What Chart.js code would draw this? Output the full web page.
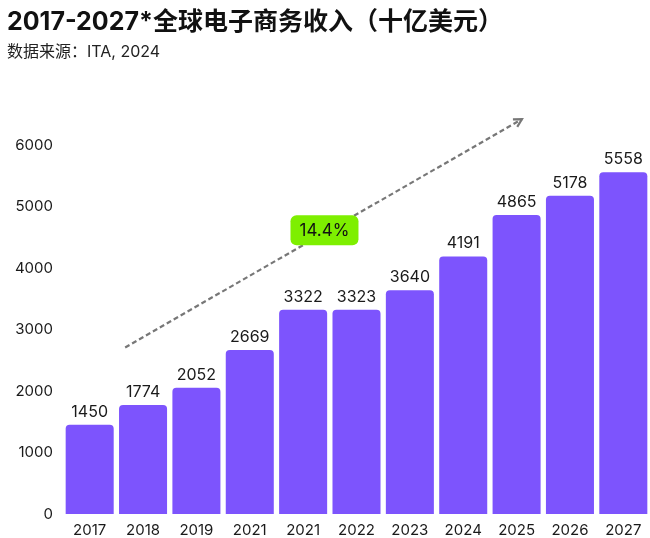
<!DOCTYPE html>
<html>
<head>
<meta charset="utf-8">
<script src="https://cdn.jsdelivr.net/npm/chart.js@4"></script>
<style>
html,body{margin:0;padding:0;background:#fff;}
#wrap{width:650px;height:538px;position:relative;}
</style>
</head>
<body>
<div id="wrap"><canvas id="c" width="650" height="538"></canvas></div>
<script>
const titleText = "2017-2027*全球电子商务收入（十亿美元）";
const subtitleText = "数据来源：ITA, 2024";
const categories = ["2017","2018","2019","2021","2021","2022","2023","2024","2025","2026","2027"];
const revenue = [1450,1774,2052,2669,3322,3323,3640,4191,4865,5178,5558];
const arrowFrom = [0.665, 2710];
const arrowTo = [8.10, 6423];
const growthLabel = "14.4%";
const growthPos = [4.40, 4618];

const FONT = "Inter, 'Noto Sans CJK SC', sans-serif";

const overlay = {
  id: 'overlay',
  afterDatasetsDraw(chart) {
    const ctx = chart.ctx;
    const xs = chart.scales.x, ys = chart.scales.y;
    const meta = chart.getDatasetMeta(0);
    ctx.save();
    ctx.font = "16px " + FONT;
    ctx.fillStyle = "#1a1a1a";
    ctx.textAlign = "center";
    ctx.textBaseline = "bottom";
    meta.data.forEach((bar, i) => {
      ctx.fillText(String(revenue[i]), bar.x, bar.y - 5);
    });
    const x1 = xs.getPixelForValue(arrowFrom[0]), y1 = ys.getPixelForValue(arrowFrom[1]);
    const x2 = xs.getPixelForValue(arrowTo[0]), y2 = ys.getPixelForValue(arrowTo[1]);
    ctx.strokeStyle = "#777";
    ctx.lineWidth = 2.2;
    ctx.setLineDash([5, 3]);
    ctx.beginPath();
    ctx.moveTo(x1, y1);
    ctx.lineTo(x2, y2);
    ctx.stroke();
    ctx.setLineDash([]);
    const ang = Math.atan2(y2 - y1, x2 - x1);
    const hl = 9;
    ctx.beginPath();
    ctx.moveTo(x2 - hl * Math.cos(ang - 0.5), y2 - hl * Math.sin(ang - 0.5));
    ctx.lineTo(x2, y2);
    ctx.lineTo(x2 - hl * Math.cos(ang + 0.5), y2 - hl * Math.sin(ang + 0.5));
    ctx.stroke();
    const cx = xs.getPixelForValue(growthPos[0]), cy = ys.getPixelForValue(growthPos[1]);
    const w = 68, h = 30, r = 6;
    ctx.fillStyle = "#7EEF00";
    ctx.beginPath();
    ctx.roundRect(cx - w / 2, cy - h / 2, w, h, r);
    ctx.fill();
    ctx.fillStyle = "#111";
    ctx.font = "17px " + FONT;
    ctx.textBaseline = "middle";
    ctx.fillText(growthLabel, cx, cy + 1);
    ctx.restore();
  }
};

new Chart(document.getElementById('c'), {
  type: 'bar',
  data: {
    labels: categories,
    datasets: [{
      data: revenue,
      backgroundColor: "#7D54FD",
      borderRadius: {topLeft: 4, topRight: 4, bottomLeft: 0, bottomRight: 0},
      borderSkipped: 'bottom',
      categoryPercentage: 1,
      barPercentage: 0.9
    }]
  },
  options: {
    responsive: false,
    animation: false,
    devicePixelRatio: 1,
    layout: {padding: {top: 0, right: 0, left: 7, bottom: 0}},
    plugins: {
      legend: {display: false},
      tooltip: {enabled: false},
      title: {
        display: true, text: titleText, align: 'start',
        color: "#111", font: {family: FONT, size: 25, weight: 'bold'},
        padding: {top: 7, bottom: 6}
      },
      subtitle: {
        display: true, text: subtitleText, align: 'start',
        color: "#222", font: {family: FONT, size: 16},
        padding: {top: 0, bottom: 83}
      }
    },
    scales: {
      x: {
        grid: {display: false, drawTicks: false, tickLength: 0},
        border: {display: false},
        ticks: {color: "#1a1a1a", font: {family: FONT, size: 15}, padding: 7, maxRotation: 0, autoSkip: false},
        afterFit(scale) { scale.height = 24; }
      },
      y: {
        min: 0, max: 6000,
        grid: {display: false, drawTicks: false, tickLength: 0},
        border: {display: false},
        ticks: {stepSize: 1000, color: "#1a1a1a", font: {family: FONT, size: 15}, padding: 10,
                callback: v => String(v)},
        afterFit(scale) { scale.width = 56; }
      }
    }
  },
  plugins: [overlay]
});
</script>
</body>
</html>
